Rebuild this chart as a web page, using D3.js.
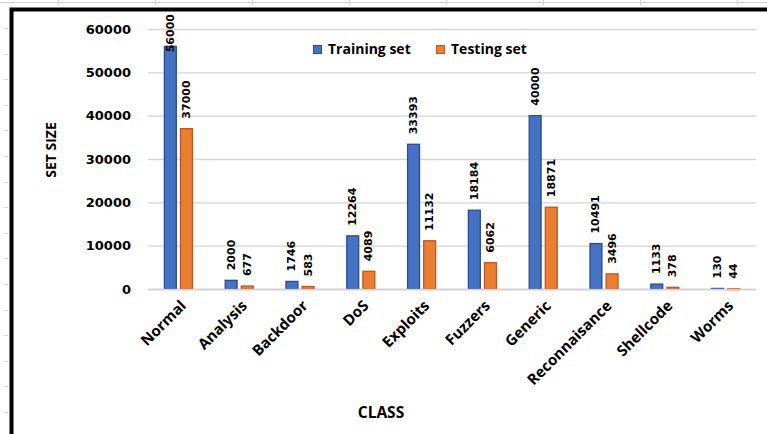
<!DOCTYPE html>
<html>
<head>
<meta charset="utf-8">
<script src="https://cdn.jsdelivr.net/npm/d3@7"></script>
<style>
  html, body { margin: 0; padding: 0; background: #fff; }
  svg { display: block; }
</style>
</head>
<body>
<svg id="chart" width="767" height="434"></svg>
<script>
const categories = ["Normal", "Analysis", "Backdoor", "DoS", "Exploits", "Fuzzers", "Generic", "Reconnaisance", "Shellcode", "Worms"];
const seriesNames = ["Training set", "Testing set"];
const trainingValues = [56000, 2000, 1746, 12264, 33393, 18184, 40000, 10491, 1133, 130];
const testingValues = [37000, 677, 583, 4089, 11132, 6062, 18871, 3496, 378, 44];
const yTicks = [0, 10000, 20000, 30000, 40000, 50000, 60000];
const colors = ["#4472C4", "#ED7D31"];
const strokeColors = ["#2A4A90", "#C0561A"];

const svg = d3.select("#chart");
const W = 767, H = 434;

// spreadsheet-like background marks
const bg = svg.append("g");
bg.append("line").attr("x1", 0).attr("x2", W).attr("y1", 2.5).attr("y2", 2.5)
  .attr("stroke", "#d0d0d0").attr("stroke-width", 1);
d3.range(58, W, 97).forEach(x => {
  bg.append("line").attr("x1", x + 0.5).attr("x2", x + 0.5).attr("y1", 0).attr("y2", 5)
    .attr("stroke", "#d0d0d0").attr("stroke-width", 1);
});
d3.range(28, H, 25.6).forEach(y => {
  bg.append("line").attr("x1", 4).attr("x2", 8).attr("y1", Math.round(y) + 0.5).attr("y2", Math.round(y) + 0.5)
    .attr("stroke", "#d8d8d8").attr("stroke-width", 1);
});

// black frame (top and left)
bg.append("path").attr("d", `M11.5,${H} L11.5,9.5 L${W},9.5`)
  .attr("fill", "none").attr("stroke", "#000").attr("stroke-width", 4);

const plot = { left: 148, right: 756, top: 29, bottom: 289 };

const x0 = d3.scaleBand().domain(categories).range([plot.left, plot.right]).padding(0);
const x1 = d3.scaleBand().domain(seriesNames)
  .range([x0.bandwidth() / 2 - 14.5, x0.bandwidth() / 2 + 14.5]).paddingInner(0.2);
const y = d3.scaleLinear().domain([0, 60000]).range([plot.bottom, plot.top]);

// gridlines
const yAxis = d3.axisLeft(y).tickValues(yTicks).tickSize(-(plot.right - plot.left)).tickFormat(d => d);
const gy = svg.append("g").attr("transform", `translate(${plot.left},0)`).call(yAxis);
gy.select(".domain").remove();
gy.selectAll(".tick line").attr("stroke", "#d4d4d4").attr("stroke-width", 1.3);
gy.selectAll(".tick text")
  .attr("x", -17)
  .attr("font-family", "DejaVu Sans")
  .attr("font-weight", "bold")
  .attr("font-size", 13)
  .attr("fill", "#000");

// bars
const data = categories.map((c, i) => ({ cat: c, vals: [trainingValues[i], testingValues[i]] }));
const groups = svg.append("g").selectAll("g").data(data).join("g")
  .attr("transform", d => `translate(${x0(d.cat)},0)`);

groups.selectAll("rect").data(d => d.vals.map((v, j) => ({ v, j, s: seriesNames[j] }))).join("rect")
  .attr("x", d => x1(d.s) + 0.5)
  .attr("width", x1.bandwidth() - 1)
  .attr("y", d => y(d.v))
  .attr("height", d => Math.max(0.8, y(0) - y(d.v)))
  .attr("fill", d => colors[d.j])
  .attr("stroke", d => strokeColors[d.j])
  .attr("stroke-width", 1.3);

// data labels
groups.selectAll("text.lbl").data(d => d.vals.map((v, j) => ({ v, j, s: seriesNames[j] }))).join("text")
  .attr("class", "lbl")
  .attr("font-family", "DejaVu Sans")
  .attr("font-weight", "bold")
  .attr("font-size", 11)
  .attr("fill", "#000")
  .attr("text-anchor", "start")
  .attr("dominant-baseline", "central")
  .text(d => d.v)
  .each(function (d) {
    const len = this.getComputedTextLength();
    const cx = x1(d.s) + x1.bandwidth() / 2;
    let sy = y(d.v) - 10;
    if (sy - len < 14) sy = 14 + len;
    d3.select(this).attr("transform", `translate(${cx},${sy}) rotate(-90)`);
  });

// baseline
svg.append("line").attr("x1", plot.left).attr("x2", plot.right)
  .attr("y1", y(0) + 0.5).attr("y2", y(0) + 0.5)
  .attr("stroke", "#d0d0d0").attr("stroke-width", 1.3);

// category labels
svg.append("g").selectAll("text").data(categories).join("text")
  .attr("transform", d => `translate(${x0(d) + x0.bandwidth() / 2 + 5},${plot.bottom + 14}) rotate(-45)`)
  .attr("text-anchor", "end")
  .attr("dy", "0.35em")
  .attr("font-family", "Open Sans")
  .attr("font-weight", "bold")
  .attr("font-size", 15)
  .attr("fill", "#000")
  .text(d => d);

// axis titles
svg.append("text")
  .attr("transform", "translate(56,150) rotate(-90)")
  .attr("text-anchor", "middle")
  .attr("font-family", "Open Sans")
  .attr("font-weight", "bold")
  .attr("font-size", 14)
  .attr("fill", "#000")
  .text("SET SIZE");

svg.append("text")
  .attr("x", 381).attr("y", 418)
  .attr("text-anchor", "middle")
  .attr("font-family", "Open Sans")
  .attr("font-weight", "bold")
  .attr("font-size", 15.5)
  .attr("fill", "#000")
  .text("CLASS");

// legend
const legendX = [313, 436];
const lg = svg.append("g").selectAll("g").data(seriesNames).join("g")
  .attr("transform", (d, i) => `translate(${legendX[i]},45)`);
lg.append("rect").attr("x", 0.5).attr("y", 0.5).attr("width", 8).attr("height", 8)
  .attr("fill", (d, i) => colors[i]).attr("stroke", (d, i) => strokeColors[i]).attr("stroke-width", 1);
lg.append("text").attr("x", 15).attr("y", 4.5).attr("dy", "0.35em")
  .attr("font-family", "Open Sans")
  .attr("font-weight", "bold")
  .attr("font-size", 14)
  .attr("fill", "#000")
  .text(d => d);
</script>
</body>
</html>
